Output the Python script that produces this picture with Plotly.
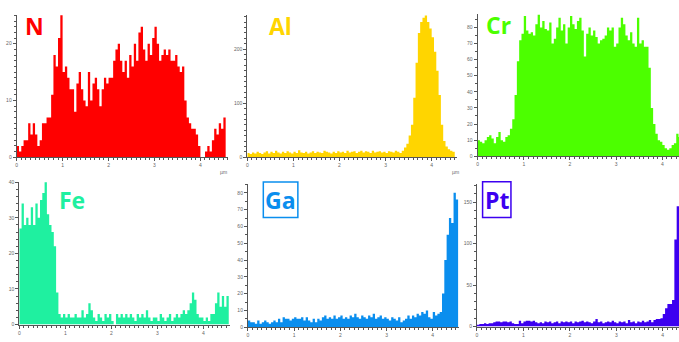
import plotly.graph_objects as go

W, H = 679, 342
STEP = 0.05

# ---------------- data (counts per 0.05 µm step) ----------------
n_counts = [2, 1, 2, 3, 3, 6, 4, 6, 4, 2, 3, 6, 6, 7, 7, 11, 18, 16, 21, 25,
            15, 16, 14, 12, 12, 8, 13, 15, 12, 10, 9, 15, 10, 13, 14, 12, 9, 12, 14, 13,
            14, 14, 17, 19, 20, 17, 15, 17, 14, 18, 16, 20, 17, 22, 23, 19, 17, 20, 18, 21,
            23, 20, 17, 18, 19, 18, 19, 17, 17, 18, 16, 15, 16, 10, 7, 6, 5, 5, 4, 2,
            0, 0, 1, 2, 1, 3, 5, 4, 6, 5, 7, 7]

al_counts = [8, 6, 9, 7, 10, 8, 6, 9, 11, 7, 10, 8, 12, 9, 7, 10, 8, 11, 9, 7,
             10, 8, 13, 9, 8, 10, 7, 9, 11, 8, 10, 9, 8, 12, 10, 9, 7, 10, 8, 11,
             9, 10, 8, 12, 9, 10, 11, 8, 10, 12, 9, 11, 10, 8, 12, 9, 10, 11, 9, 10,
             8, 11, 10, 9, 12, 10, 8, 12, 18, 25, 40, 60, 110, 175, 230, 250, 258, 262, 250, 238,
             222, 195, 160, 115, 60, 30, 20, 15, 12, 10, 10]

cr_counts = [10, 9, 8, 10, 12, 13, 11, 8, 12, 15, 10, 9, 12, 13, 17, 23, 38, 59, 72, 76,
             87, 78, 76, 77, 75, 82, 88, 80, 84, 79, 78, 83, 70, 73, 80, 86, 78, 82, 70, 80,
             87, 82, 79, 84, 86, 78, 62, 76, 80, 75, 78, 74, 70, 72, 73, 75, 80, 78, 80, 68,
             70, 80, 86, 82, 75, 72, 77, 70, 68, 86, 70, 72, 68, 68, 55, 30, 20, 14, 10, 9,
             7, 5, 4, 5, 7, 8, 14, 12, 12]

fe_counts = [27, 34, 28, 30, 28, 33, 28, 34, 30, 35, 37, 40, 31, 28, 26, 22, 9, 3, 2, 3,
             2, 3, 2, 2, 3, 2, 2, 4, 2, 3, 6, 4, 2, 1, 3, 2, 1, 3, 2, 3,
             1, 0, 3, 2, 3, 2, 3, 2, 3, 2, 1, 3, 2, 3, 2, 4, 2, 1, 2, 2,
             1, 3, 2, 1, 2, 3, 1, 2, 3, 2, 3, 4, 3, 4, 6, 9, 7, 3, 2, 2,
             1, 2, 1, 3, 3, 6, 9, 5, 8, 5, 8, 6]

ga_counts = [4, 3, 3, 2, 4, 2, 3, 4, 3, 2, 3, 4, 3, 5, 3, 6, 5, 5, 4, 5,
             6, 5, 5, 6, 4, 6, 4, 3, 5, 3, 5, 4, 6, 7, 5, 6, 5, 7, 5, 6,
             7, 5, 6, 5, 7, 6, 8, 6, 5, 7, 6, 5, 7, 6, 8, 5, 6, 7, 5, 6,
             5, 4, 6, 5, 4, 6, 3, 4, 5, 7, 5, 7, 6, 8, 7, 9, 8, 10, 6, 5,
             9, 7, 8, 9, 20, 40, 55, 65, 62, 80, 76, 72]

pt_counts = [2, 3, 3, 4, 3, 4, 4, 5, 6, 6, 5, 6, 6, 5, 6, 4, 3, 3, 7, 4,
             6, 7, 7, 6, 7, 5, 4, 5, 4, 6, 5, 6, 4, 5, 6, 4, 6, 5, 6, 5,
             6, 4, 6, 5, 6, 7, 5, 6, 5, 4, 6, 9, 5, 6, 4, 5, 6, 5, 7, 5,
             4, 6, 5, 6, 4, 8, 5, 6, 4, 6, 5, 7, 5, 6, 8, 5, 8, 9, 9, 10,
             15, 22, 27, 27, 32, 105, 145, 155, 155]

panels = [
    # name, counts, color, x-range end, y-range end, ytick dtick, y minor dtick
    ("N",  n_counts,  "#FF0000", 4.60, 25.1, 10,  1),
    ("Al", al_counts, "#FFD500", 4.55, 263,  100, 10),
    ("Cr", cr_counts, "#4CFF00", 4.36, 88,   10,  5),
    ("Fe", fe_counts, "#1FF0A0", 4.57, 40.2, 10,  2),
    ("Ga", ga_counts, "#0A8EEE", 4.56, 85.4, 10,  5),
    ("Pt", pt_counts, "#3C00F0", 4.35, 172,  50,  10),
]

# axis pixel boxes (left, right, top, bottom)
boxes = [
    (15.7, 227.3, 12.0, 157.0),
    (246.7, 456.7, 12.3, 157.0),
    (477.3, 679.0, 11.7, 156.0),
    (18.3, 229.0, 181.7, 327.3),
    (247.3, 458.3, 184.0, 330.0),
    (476.7, 679.0, 184.0, 329.3),
]

label_pos = [(34, 23), (279.5, 23), (498.5, 22.5), (71.5, 200.5), (280, 201), (496.5, 201)]
label_boxes = [None, None, None, None, (262.7, 297.3, 182.3, 218.3), (482.3, 510.7, 182.0, 218.3)]


def px(x):
    return x / W


def py(y):
    return 1 - y / H


fig = go.Figure()
layout = dict(
    width=W, height=H, margin=dict(l=0, r=0, t=0, b=0),
    paper_bgcolor="white", plot_bgcolor="white", showlegend=False,
    annotations=[], shapes=[],
)

for i, (name, counts, color, xmax, ymax, ydt, ymin_dt) in enumerate(panels):
    k = "" if i == 0 else str(i + 1)
    xs = [round(j * STEP, 3) for j in range(len(counts))]
    fig.add_trace(go.Scatter(
        x=xs, y=counts, mode="lines", line=dict(width=0, shape="hv", color=color),
        fill="tozeroy", fillcolor=color, xaxis="x" + k, yaxis="y" + k,
        hoverinfo="skip",
    ))
    l, r, t, b = boxes[i]
    axcommon = dict(
        showgrid=False, zeroline=False, showline=True, linecolor="#555555", linewidth=1,
        ticks="outside", ticklen=3, tickcolor="#555555", tickwidth=1,
        tickfont=dict(size=5, color="#666666", family="Arial, Liberation Sans"),
    )
    layout["xaxis" + k] = dict(
        axcommon, domain=[px(l), px(r)], range=[0, xmax], anchor="y" + k,
        tick0=0, dtick=1,
        minor=dict(dtick=0.1, ticks="outside", ticklen=2, tickcolor="#555555"),
    )
    layout["yaxis" + k] = dict(
        axcommon, domain=[py(b), py(t)], range=[0, ymax], anchor="x" + k,
        tick0=0, dtick=ydt,
        minor=dict(dtick=ymin_dt, ticks="outside", ticklen=2, tickcolor="#555555"),
    )
    cx, cy = label_pos[i]
    layout["annotations"].append(dict(
        text="<b>%s</b>" % name, x=px(cx), y=py(cy), xref="paper", yref="paper",
        xanchor="center", yanchor="middle", showarrow=False,
        font=dict(size=23, color=color, family="Open Sans"),
    ))
    if label_boxes[i]:
        bl, br, bt, bb = label_boxes[i]
        layout["shapes"].append(dict(
            type="rect", xref="paper", yref="paper",
            x0=px(bl), x1=px(br), y0=py(bb), y1=py(bt),
            line=dict(color=color, width=1.5), fillcolor="rgba(0,0,0,0)",
        ))

for (ux, uy) in [(223, 172), (455, 172)]:
    layout["annotations"].append(dict(
        text="µm", x=px(ux), y=py(uy), xref="paper", yref="paper",
        xanchor="center", yanchor="middle", showarrow=False,
        font=dict(size=5, color="#666666", family="Arial, Liberation Sans"),
    ))

fig.update_layout(**layout)
fig.write_html(
    "out.html",
    config={"displayModeBar": False, "staticPlot": True},
    post_script="document.body.style.margin='0px';document.body.style.overflow='hidden';",
)
